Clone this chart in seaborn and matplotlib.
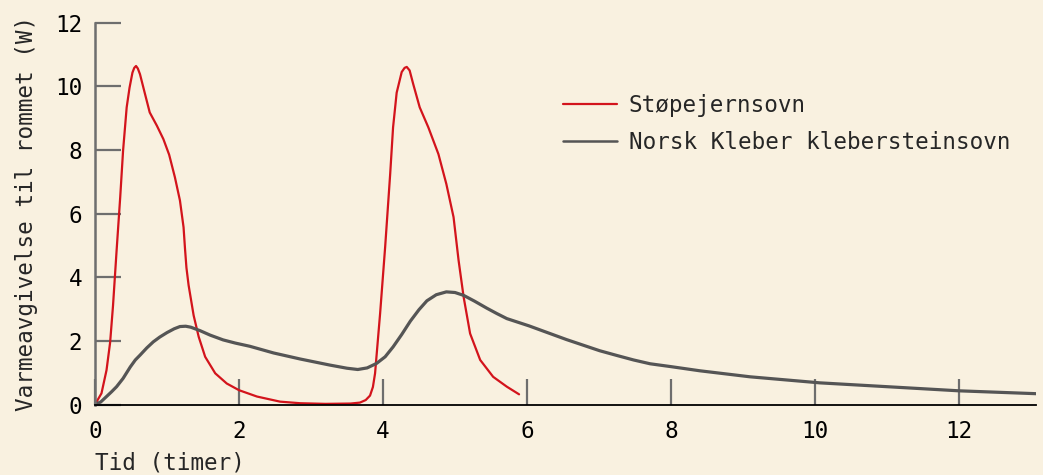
import numpy as np
import pandas as pd
import seaborn as sns
from matplotlib import pyplot as plt

# Values (hours, watts)
stove_names = ["Støpejernsovn", "Norsk Kleber klebersteinsovn"]

iron_t = [0.0, 0.09, 0.16, 0.21, 0.25, 0.30, 0.35, 0.39, 0.44, 0.48, 0.52, 0.545, 0.57,
          0.595, 0.625, 0.69, 0.76, 0.86, 0.95, 1.03, 1.11, 1.18, 1.23, 1.25, 1.27, 1.30,
          1.37, 1.44, 1.53, 1.67, 1.83, 2.0, 2.25, 2.57, 2.85, 3.2, 3.55, 3.68, 3.76,
          3.82, 3.86, 3.89, 3.96, 4.03, 4.10, 4.14, 4.19, 4.26, 4.30, 4.33, 4.37, 4.42,
          4.51, 4.63, 4.77, 4.88, 4.98, 5.05, 5.12, 5.21, 5.35, 5.53, 5.72, 5.89]
iron_w = [0.0, 0.35, 1.08, 1.95, 3.1, 4.84, 6.51, 7.98, 9.34, 9.96, 10.43, 10.58, 10.64,
          10.56, 10.38, 9.8, 9.18, 8.76, 8.34, 7.85, 7.14, 6.41, 5.57, 4.9, 4.3, 3.75,
          2.8, 2.13, 1.50, 0.98, 0.66, 0.45, 0.25, 0.09, 0.04, 0.02, 0.03, 0.06, 0.14,
          0.28, 0.55, 0.98, 2.86, 4.95, 7.25, 8.71, 9.8, 10.45, 10.58, 10.61, 10.5, 10.07,
          9.34, 8.71, 7.87, 6.93, 5.89, 4.53, 3.38, 2.23, 1.40, 0.87, 0.56, 0.32]

stone_t = [0.0, 0.08, 0.16, 0.23, 0.30, 0.39, 0.49, 0.56, 0.625, 0.72, 0.81, 0.90, 1.0,
           1.1, 1.18, 1.26, 1.33, 1.46, 1.6, 1.78, 1.95, 2.15, 2.48, 2.85, 3.26, 3.5,
           3.65, 3.78, 3.91, 4.03, 4.14, 4.26, 4.38, 4.5, 4.61, 4.74, 4.88, 5.0, 5.12,
           5.27, 5.44, 5.58, 5.72, 6.03, 6.32, 6.55, 7.01, 7.25, 7.48, 7.71, 8.0, 8.4,
           9.1, 10.07, 11.0, 12.0, 13.07]
stone_w = [0.0, 0.08, 0.25, 0.4, 0.56, 0.82, 1.18, 1.4, 1.55, 1.78, 1.97, 2.12, 2.26,
           2.38, 2.45, 2.46, 2.43, 2.32, 2.18, 2.03, 1.93, 1.83, 1.62, 1.43, 1.24, 1.14,
           1.10, 1.15, 1.29, 1.5, 1.81, 2.2, 2.62, 2.98, 3.26, 3.45, 3.54, 3.52, 3.43,
           3.25, 3.03, 2.86, 2.70, 2.47, 2.23, 2.04, 1.69, 1.54, 1.40, 1.28, 1.19, 1.06,
           0.87, 0.68, 0.56, 0.43, 0.34]

x_ticks = [0, 2, 4, 6, 8, 10, 12]
y_ticks = [0, 2, 4, 6, 8, 10, 12]

bg = "#F9F1E0"
red = "#D3141C"
grey = "#555555"
tick_grey = "#6E6E6E"

df = pd.concat([
    pd.DataFrame({"Tid": iron_t, "W": iron_w, "Ovn": stove_names[0]}),
    pd.DataFrame({"Tid": stone_t, "W": stone_w, "Ovn": stove_names[1]}),
])

sns.set_style("white")
plt.rcParams["font.family"] = ["DejaVu Sans Mono", "DejaVu Sans"]
plt.rcParams["lines.solid_joinstyle"] = "round"
plt.rcParams["lines.solid_capstyle"] = "round"

fig = plt.figure(figsize=(10.43, 4.75), dpi=100, facecolor=bg)
ax = fig.add_axes([95 / 1043, 1 - 404.5 / 475, 941 / 1043, 381.8 / 475])
ax.set_facecolor(bg)

ax = sns.lineplot(data=df, x="Tid", y="W", hue="Ovn", size="Ovn",
                  palette=[red, grey], sizes=[1.6, 2.3], sort=False,
                  estimator=None, ax=ax, legend=False)

ax.set_xlim(0, 13.07)
ax.set_ylim(0, 12)
ax.set_xticks(x_ticks)
ax.set_yticks(y_ticks)
ax.tick_params(axis="both", direction="in", length=19, width=1.6,
               colors=tick_grey, labelcolor="black", labelsize=16.3,
               bottom=True, left=True)
ax.tick_params(axis="y", pad=9)
ax.tick_params(axis="x", pad=11)

for s in ["top", "right"]:
    ax.spines[s].set_visible(False)
ax.spines["bottom"].set_color("black")
ax.spines["bottom"].set_linewidth(1.3)
ax.spines["left"].set_color(tick_grey)
ax.spines["left"].set_linewidth(1.8)
ax.spines["bottom"].set_zorder(5)

ax.set_xlabel("Tid (timer)", fontsize=16.3, loc="left", labelpad=6)
ax.set_ylabel("Varmeavgivelse til rommet (W)", fontsize=16.3)
ax.yaxis.set_label_coords(-57 / 941, 0.5)

handles = [plt.Line2D([], [], color=red, lw=1.6),
           plt.Line2D([], [], color=grey, lw=1.8)]
ax.legend(handles, stove_names, loc="upper left", frameon=False, fontsize=16.3,
          bbox_to_anchor=(563 / 1043, 1 - 94 / 475), bbox_transform=fig.transFigure,
          borderpad=0, borderaxespad=0, handlelength=2.4, handletextpad=0.5,
          labelspacing=0.6)

plt.savefig("out.png", dpi=100, facecolor=bg)
